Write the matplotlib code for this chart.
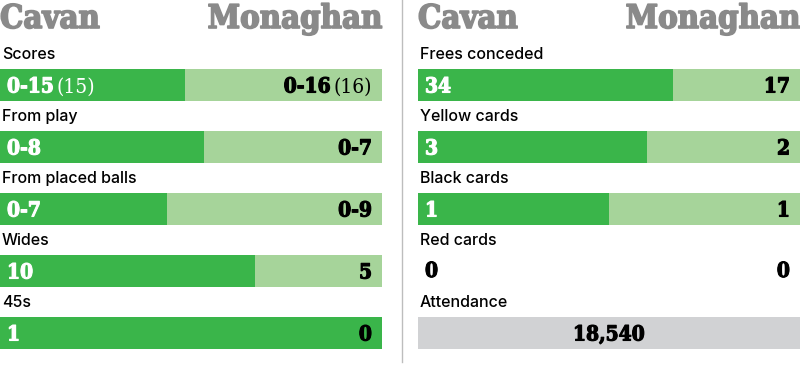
import matplotlib
matplotlib.use("Agg")
import matplotlib.pyplot as plt
import matplotlib.patheffects as pe

# match stats
teams = ["Cavan", "Monaghan"]

left_stats = ["Scores", "From play", "From placed balls", "Wides", "45s"]
cavan_left = [15, 8, 7, 10, 1]
monaghan_left = [16, 7, 9, 5, 0]
cavan_left_text = ["0-15", "0-8", "0-7", "10", "1"]
monaghan_left_text = ["0-16", "0-7", "0-9", "5", "0"]
cavan_left_extra = ["(15)", "", "", "", ""]
monaghan_left_extra = ["(16)", "", "", "", ""]

right_stats = ["Frees conceded", "Yellow cards", "Black cards", "Red cards"]
cavan_right = [34, 3, 1, 0]
monaghan_right = [17, 2, 1, 0]

attendance_label = "Attendance"
attendance = 18540

DARK = "#3ab54a"
LIGHT = "#a6d49a"
GREY = "#d1d2d4"
HEAD = "#8a8a8a"

SERIF = ["DejaVu Serif"]
SANS = ["Inter", "DejaVu Sans"]
COND = "condensed"

fig = plt.figure(figsize=(8, 3.8), dpi=100)
ax = fig.add_axes([0, 0, 1, 1])
ax.set_xlim(0, 800)
ax.set_ylim(380, 0)
ax.axis("off")

panels = [(0, 382), (418, 382)]
row_top = [69, 131, 193, 255, 317]
bar_h = 32
pad = 7


def heavy(col, lw=0.8):
    # thicken the bold serif a little, the original face is a black weight
    return [pe.withStroke(linewidth=lw, foreground=col)]


def header(x0, w):
    ax.text(x0, 28, teams[0], fontsize=23.5, fontweight="bold", family=SERIF,
            fontstretch=COND, color=HEAD, ha="left", va="baseline",
            path_effects=heavy(HEAD, 1.2))
    ax.text(x0 + w, 28, teams[1], fontsize=23.5, fontweight="bold", family=SERIF,
            fontstretch=COND, color=HEAD, ha="right", va="baseline",
            path_effects=heavy(HEAD, 1.2))


def row(x0, w, i, label, a, b, a_txt, b_txt, a_extra="", b_extra=""):
    top = row_top[i]
    ax.text(x0 + 2, top - 10, label, fontsize=11.5, family=SANS,
            fontweight="medium", color="black", ha="left", va="baseline")
    total = a + b
    base = top + bar_h / 2 + 7.5
    if total > 0:
        wa = a / total * w
        ax.barh(top + bar_h / 2, wa, left=x0, height=bar_h, color=DARK)
        ax.barh(top + bar_h / 2, w - wa, left=x0 + wa, height=bar_h, color=LIGHT)
        a_col = "white" if a > 0 else "black"
        b_col = "black"
    else:
        a_col = b_col = "black"
        base = top + bar_h / 2 + 6
    t1 = ax.text(x0 + pad, base, a_txt, fontsize=15, fontweight="bold",
                 family=SERIF, fontstretch=COND, color=a_col, ha="left",
                 va="baseline", path_effects=heavy(a_col))
    if a_extra:
        ax.annotate(a_extra, xy=(1, base), xycoords=(t1, "data"),
                    xytext=(2, 0), textcoords="offset points", fontsize=15,
                    family=SERIF, fontstretch=COND, color=a_col, ha="left",
                    va="baseline")
    if b_extra:
        t2 = ax.text(x0 + w - 10, base, b_extra, fontsize=15, family=SERIF,
                     fontstretch=COND, color=b_col, ha="right", va="baseline")
        ax.annotate(b_txt, xy=(0, base), xycoords=(t2, "data"),
                    xytext=(-2, 0), textcoords="offset points", fontsize=15,
                    fontweight="bold", family=SERIF, fontstretch=COND,
                    color=b_col, ha="right", va="baseline",
                    path_effects=heavy(b_col))
    else:
        ax.text(x0 + w - 10, base, b_txt, fontsize=15, fontweight="bold",
                family=SERIF, fontstretch=COND, color=b_col, ha="right",
                va="baseline", path_effects=heavy(b_col))


# left panel
x0, w = panels[0]
header(x0, w)
for i, lab in enumerate(left_stats):
    row(x0, w, i, lab, cavan_left[i], monaghan_left[i], cavan_left_text[i],
        monaghan_left_text[i], cavan_left_extra[i], monaghan_left_extra[i])

# right panel
x0, w = panels[1]
header(x0, w)
for i, lab in enumerate(right_stats):
    row(x0, w, i, lab, cavan_right[i], monaghan_right[i], str(cavan_right[i]),
        str(monaghan_right[i]))

top = row_top[4]
ax.text(x0 + 2, top - 10, attendance_label, fontsize=11.5, family=SANS,
        fontweight="medium", color="black", ha="left", va="baseline")
ax.barh(top + bar_h / 2, w, left=x0, height=bar_h, color=GREY)
ax.text(x0 + w / 2, top + bar_h / 2 + 7.5, f"{attendance:,}", fontsize=15,
        fontweight="bold", family=SERIF, fontstretch=COND, color="black",
        ha="center", va="baseline", path_effects=heavy("black"))

# divider
ax.plot([401.5, 401.5], [0, 362], color="#bdbdbd", lw=1)

fig.savefig("out.png", dpi=100, facecolor="white")
